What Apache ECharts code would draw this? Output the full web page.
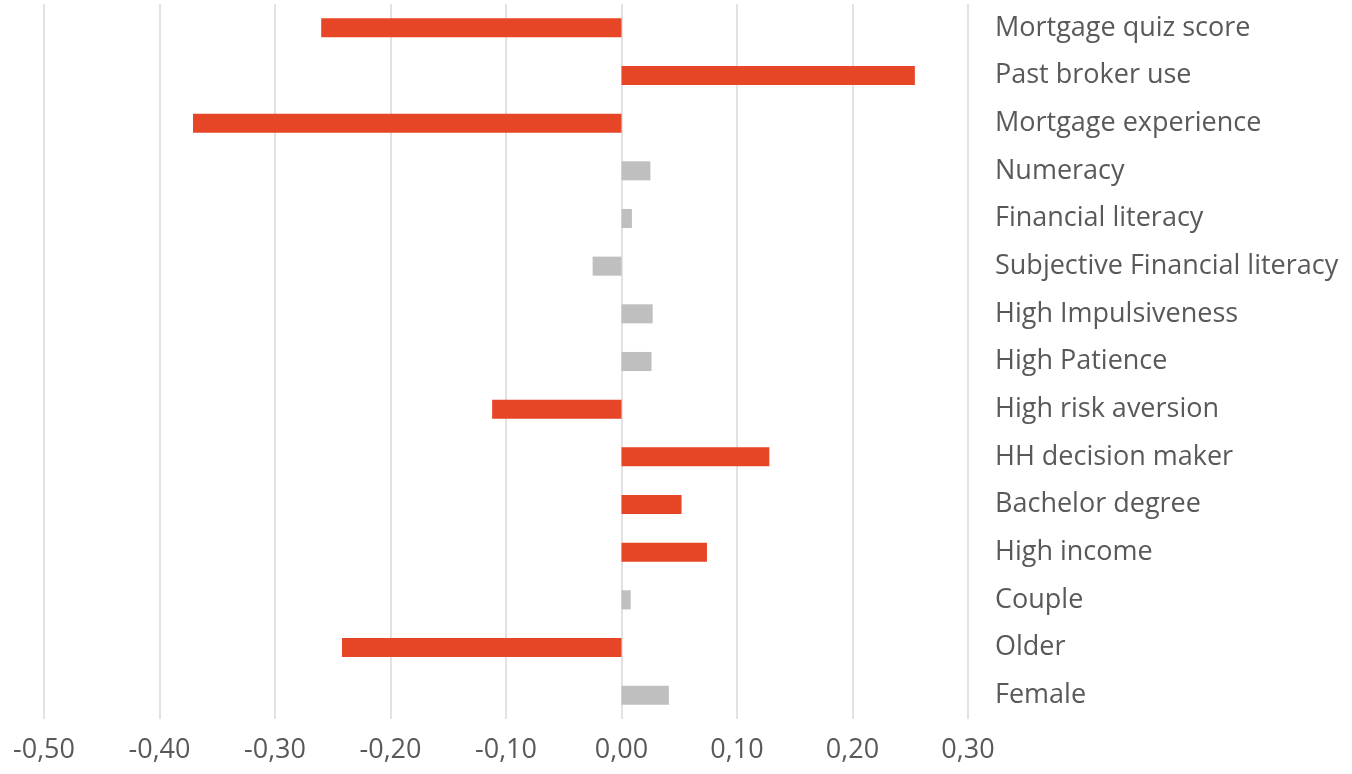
<!DOCTYPE html>
<html>
<head>
<meta charset="utf-8">
<script src="https://cdn.jsdelivr.net/npm/echarts@6/dist/echarts.min.js"></script>
<style>html,body{margin:0;padding:0;background:#fff;}#c{width:1352px;height:774px;}</style>
</head>
<body>
<div id="c"></div>
<script>
var categories = ["Mortgage quiz score","Past broker use","Mortgage experience","Numeracy","Financial literacy","Subjective Financial literacy","High Impulsiveness","High Patience","High risk aversion","HH decision maker","Bachelor degree","High income","Couple","Older","Female"];
var values = [-0.260, 0.254, -0.371, 0.025, 0.009, -0.025, 0.027, 0.026, -0.112, 0.128, 0.052, 0.074, 0.008, -0.242, 0.041];
var significant = [1,1,1,0,0,0,0,0,1,1,1,1,0,1,0];
var xMin = -0.5, xMax = 0.3, xStep = 0.1;
var RED = '#E64626', GRAY = '#BFBFBF';

var chart = echarts.init(document.getElementById('c'));
chart.setOption({
  animation: false,
  grid: {left: 44, right: 384, top: 4, bottom: 55, containLabel: false},
  xAxis: {
    type: 'value', min: xMin, max: xMax, interval: xStep,
    axisLine: {show: false}, axisTick: {show: false},
    splitLine: {show: true, lineStyle: {color: '#D9D9D9', width: 1.5}},
    axisLabel: {
      color: '#595959', fontSize: 27, fontFamily: 'Open Sans', margin: 18,
      formatter: function (v) { return (Math.round(v * 100) / 100).toFixed(2).replace('.', ','); }
    }
  },
  yAxis: {
    type: 'category', data: categories, inverse: true, position: 'right',
    axisLine: {show: false}, axisTick: {show: false}, splitLine: {show: false},
    axisLabel: {color: '#595959', fontSize: 27, fontFamily: 'Open Sans', align: 'left', margin: 27, padding: [0, 0, 6, 0]}
  },
  series: [{
    type: 'bar', barWidth: '40%',
    data: values.map(function (v, i) {
      return {value: v, itemStyle: {color: significant[i] ? RED : GRAY}};
    })
  }]
});
</script>
</body>
</html>
